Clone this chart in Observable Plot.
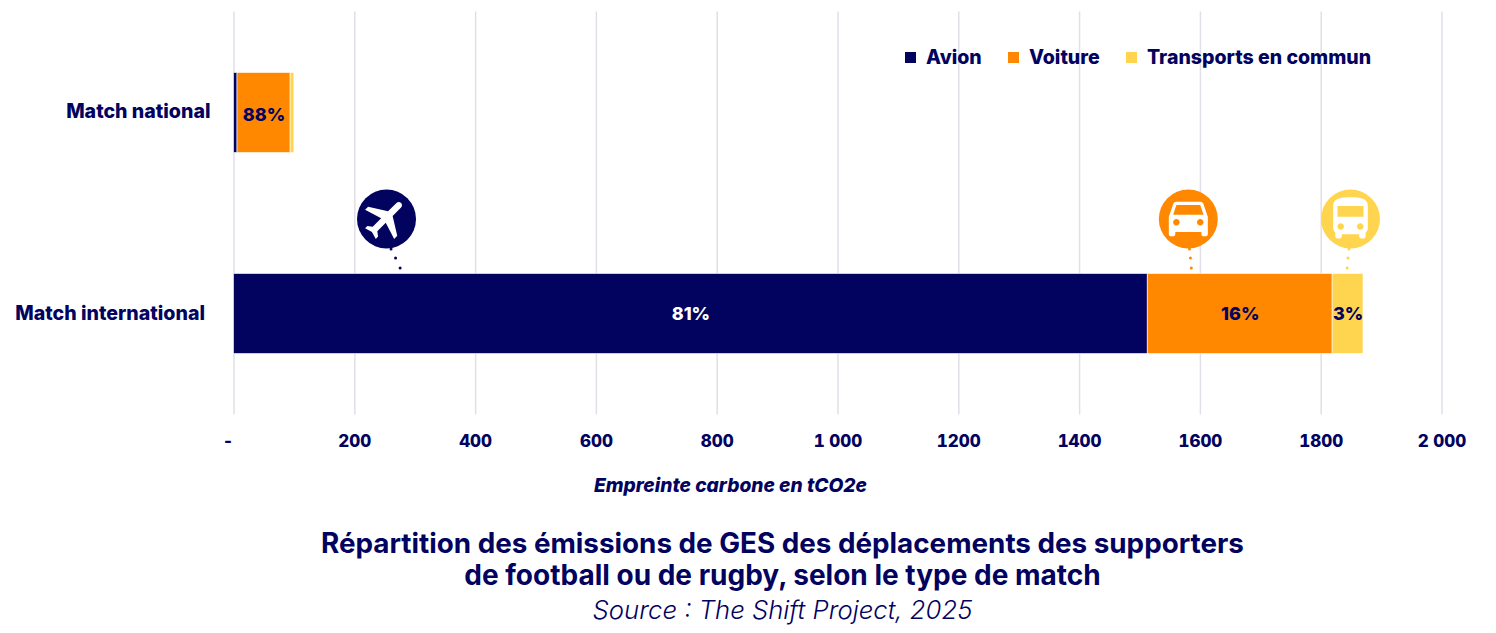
<!DOCTYPE html>
<html lang="fr">
<head>
<meta charset="utf-8">
<script src="https://cdn.jsdelivr.net/npm/d3@7"></script>
<script src="https://cdn.jsdelivr.net/npm/@observablehq/plot@0.6"></script>
<style>
html,body{margin:0;padding:0;background:#fff;overflow:hidden}
#root{position:relative;width:1496px;height:633px;font-family:Inter,sans-serif;color:#02025f}
#root svg{position:absolute;left:0;top:0;overflow:visible}
.abs{position:absolute;white-space:nowrap}
#legend span.t{position:absolute;top:0;font-weight:800;font-size:19.55px;line-height:22px}
#legend i{position:absolute;top:6px;width:11px;height:11px}
</style>
</head>
<body>
<div id="root"></div>
<script>
const matches = ["Match national", "Match international"];
const modes = ["Avion", "Voiture", "Transports en commun"];
const colors = ["#02025f", "#ff8800", "#ffd54f"];
const nationalValues = [5.8, 88, 6];
const internationalValues = [1513, 306, 51];
const nationalLabels = [null, "88%", null];
const internationalLabels = ["81%", "16%", "3%"];
const xTicks = [0, 200, 400, 600, 800, 1000, 1200, 1400, 1600, 1800, 2000];
const iconX = [252.5, 1580, 1848.5];
const leaderNear = [260, 1582, 1846];
const leaderMid = [267.5, 1583.5, 1844.5];
const leaderFar = [275, 1585, 1843];
const xLabel = "Empreinte carbone en tCO2e";
const titleLines = ["Répartition des émissions de GES des déplacements des supporters", "de football ou de rugby, selon le type de match"];
const sourceLine = "Source : The Shift Project, 2025";

const navy = colors[0];
const rows = [
  ...modes.map((mode, i) => ({match: matches[0], mode, value: nationalValues[i], label: nationalLabels[i]})),
  ...modes.map((mode, i) => ({match: matches[1], mode, value: internationalValues[i], label: internationalLabels[i]}))
];

const svgIcon = (inner) => "data:image/svg+xml;utf8," + encodeURIComponent(
  `<svg xmlns="http://www.w3.org/2000/svg" viewBox="0 0 24 24"><g fill="#fff">${inner}</g></svg>`);
const glyphs = [
  svgIcon('<path transform="rotate(45 12 12)" d="M21 16v-2l-8-5V3.5c0-.83-.67-1.5-1.5-1.5S10 2.67 10 3.5V9l-8 5v2l8-2.5V19l-2 1.5V22l3.5-1 3.5 1v-1.5L13 19v-5.5l8 2.5z"/>'),
  svgIcon('<path transform="translate(0 -1)" d="M18.92 6.01C18.72 5.42 18.16 5 17.5 5h-11c-.66 0-1.21.42-1.42 1.01L3 12v8c0 .55.45 1 1 1h1c.55 0 1-.45 1-1v-1h12v1c0 .55.45 1 1 1h1c.55 0 1-.45 1-1v-8l-2.08-5.99zM6.5 16c-.83 0-1.5-.67-1.5-1.5S5.67 13 6.5 13s1.5.67 1.5 1.5S7.33 16 6.5 16zm11 0c-.83 0-1.5-.67-1.5-1.5s.67-1.5 1.5-1.5 1.5.67 1.5 1.5-.67 1.5-1.5 1.5zM5 11l1.5-4.5h11L19 11H5z"/>'),
  svgIcon('<path d="M4 16c0 .88.39 1.67 1 2.22V20c0 .55.45 1 1 1h1c.55 0 1-.45 1-1v-1h8v1c0 .55.45 1 1 1h1c.55 0 1-.45 1-1v-1.78c.61-.55 1-1.34 1-2.22V6c0-3.5-3.58-4-8-4s-8 .5-8 4v10zm3.5 1c-.83 0-1.5-.67-1.5-1.5S6.67 14 7.5 14s1.5.67 1.5 1.5S8.33 17 7.5 17zm9 0c-.83 0-1.5-.67-1.5-1.5s.67-1.5 1.5-1.5 1.5.67 1.5 1.5-.67 1.5-1.5 1.5zm1.5-6H6V6h12v5z"/>')
];
const icons = modes.map((mode, i) => ({match: matches[1], mode, x: iconX[i], src: glyphs[i]}));
const leaderMark = (values, dy) => Plot.dot(
  modes.map((mode, i) => ({match: matches[1], mode, x: values[i]})),
  {x: "x", y: "match", fill: "mode", r: 1.5, dy});

const tickFmt = d => d === 0 ? "-" : d === 2000 ? "2 000" : d === 1000 ? "1 000" : String(d);
const axisStyle = {anchor: "bottom", tickSize: 0, tickPadding: 20, label: null, tickFormat: tickFmt,
  fontSize: 17, fontWeight: 800, fill: navy, color: navy};
const catStyle = {tickSize: 0, label: null, fontSize: 19.6, fontWeight: 800, fill: navy};
const pctText = (match, text, fill, dy) => Plot.text(rows.filter(d => d.match === match), Plot.stackX({
  x: "value", y: "match", z: "mode", order: null, text, fontSize: 18, fontWeight: 800, fill, dy}));

const chart = Plot.plot({
  width: 1496,
  height: 460,
  marginLeft: 233.5,
  marginRight: 54.5,
  marginTop: 11.5,
  marginBottom: 45.5,
  style: {fontFamily: "Inter, sans-serif", background: "transparent", color: navy},
  x: {domain: [0, 2000], label: null},
  y: {domain: matches, label: null, padding: 0},
  color: {domain: modes, range: colors},
  marks: [
    Plot.gridX(xTicks, {stroke: "#e2dfe8", strokeOpacity: 1, strokeWidth: 1.5}),
    Plot.axisX(xTicks.filter(d => d !== 0), axisStyle),
    Plot.axisX([0], {...axisStyle, dx: -6}),
    Plot.axisY([matches[0]], {...catStyle, tickPadding: 23.5, dy: -1}),
    Plot.axisY([matches[1]], {...catStyle, tickPadding: 29}),
    Plot.barX(rows, {x: "value", y: "match", z: "mode", fill: "mode", order: null, insetTop: 60.5, insetBottom: 60.5, stroke: "#fff", strokeWidth: 1, strokeOpacity: 0.6}),
    pctText(matches[0], "label", navy, 2),
    pctText(matches[1], d => d.label === "81%" ? null : d.label, navy, 0),
    pctText(matches[1], d => d.label === "81%" ? d.label : null, "#fff", 0),
    Plot.dot(icons, {x: "x", y: "match", fill: "mode", r: 29.5, dy: -95}),
    Plot.image(icons, {x: "x", y: "match", src: "src", width: 52, height: 52, dy: -95}),
    leaderMark(leaderNear, -65),
    leaderMark(leaderMid, -56),
    leaderMark(leaderFar, -46)
  ]
});
const root = document.getElementById("root");
root.appendChild(chart);

const addText = (text, css) => {
  const d = document.createElement("div");
  d.className = "abs";
  d.textContent = text;
  d.style.cssText = css;
  root.appendChild(d);
  return d;
};
// legend
const legend = document.createElement("div");
legend.id = "legend";
legend.className = "abs";
legend.style.cssText = "left:0;top:46px;width:1496px;height:22px";
const swatchLeft = [905, 1008, 1126];
const labelLeft = [926, 1029, 1147];
modes.forEach((m, i) => {
  const s = document.createElement("i");
  s.style.left = swatchLeft[i] + "px";
  s.style.background = colors[i];
  const t = document.createElement("span");
  t.className = "t";
  t.style.left = labelLeft[i] + "px";
  t.textContent = m;
  legend.append(s, t);
});
root.appendChild(legend);

addText(xLabel, "left:730.5px;top:473.5px;transform:translateX(-50%);font-size:19.2px;font-weight:800;font-style:italic;line-height:22px");
addText(titleLines[0], "left:782.5px;top:525.5px;transform:translateX(-50%);font-size:27.8px;font-weight:700;line-height:34px");
addText(titleLines[1], "left:782.5px;top:557.5px;transform:translateX(-50%);font-size:28px;font-weight:700;line-height:34px");
addText(sourceLine, "left:782.5px;top:594px;transform:translateX(-50%);font-size:25.7px;font-weight:300;font-style:italic;line-height:32px");
</script>
</body>
</html>
